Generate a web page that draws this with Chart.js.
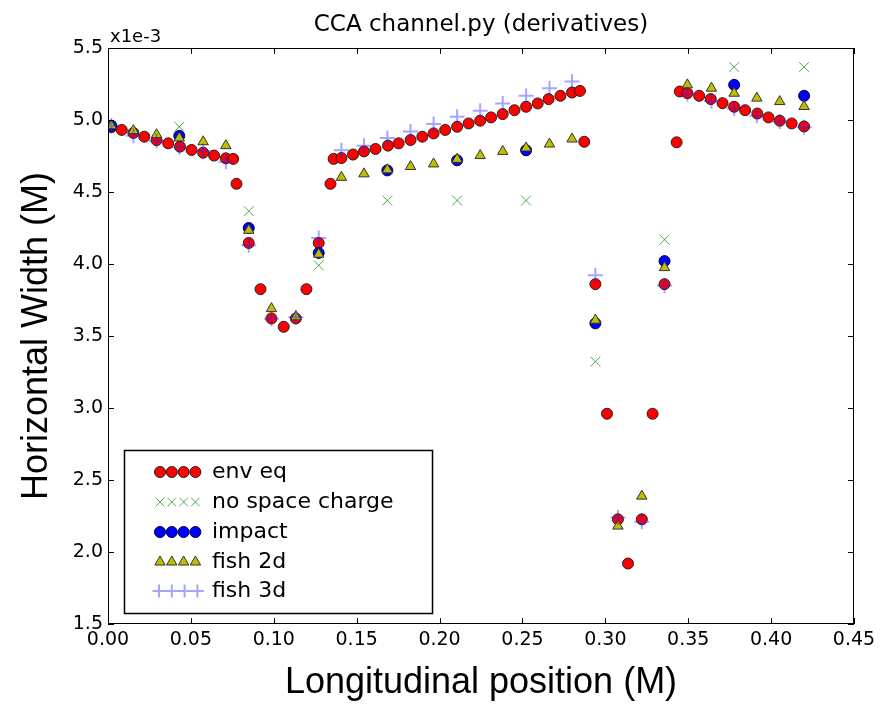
<!DOCTYPE html>
<html lang="en">
<head>
<meta charset="UTF-8">
<title>CCA channel.py (derivatives)</title>
<script src="https://cdn.jsdelivr.net/npm/chart.js"></script>
<style>
  body { margin: 0; background: #fff; }
  #wrap { width: 892px; height: 705px; }
</style>
</head>
<body>
<div id="wrap"><canvas id="chart1" width="892" height="705"></canvas></div>
<script>
// env eq (red circles)
const envX = [0.002, 0.0083, 0.0153, 0.0219, 0.0293, 0.0363, 0.0434, 0.0504, 0.0574, 0.064,
  0.0711, 0.0755, 0.0775, 0.0849, 0.092, 0.0986, 0.106, 0.1133, 0.1197, 0.1271,
  0.1342, 0.1361, 0.1408, 0.1478, 0.1544, 0.1614, 0.1689, 0.1753, 0.1825, 0.1896,
  0.1964, 0.2034, 0.2106, 0.2175, 0.2245, 0.2311, 0.2381, 0.2452, 0.2522, 0.2592,
  0.2658, 0.2729, 0.2799, 0.2847, 0.2873, 0.294, 0.301, 0.3076, 0.3137, 0.322,
  0.3285, 0.3357, 0.343, 0.3449, 0.3495, 0.3566, 0.3636, 0.3707, 0.3777, 0.3843,
  0.3917, 0.3984, 0.4052, 0.4124, 0.4199];
const envY = [4.95, 4.931, 4.91, 4.884, 4.86, 4.838, 4.815, 4.792, 4.773, 4.753,
  4.734, 4.730, 4.557, 4.146, 3.825, 3.622, 3.564, 3.622, 3.825, 4.146,
  4.557, 4.730, 4.736, 4.760, 4.782, 4.799, 4.822, 4.838, 4.861, 4.884,
  4.907, 4.931, 4.953, 4.976, 4.995, 5.018, 5.041, 5.068, 5.092, 5.115,
  5.145, 5.168, 5.191, 5.202, 4.849, 3.86, 2.96, 2.227, 1.92, 2.227,
  2.96, 3.86, 4.845, 5.198, 5.186, 5.168, 5.145, 5.117, 5.092, 5.068,
  5.045, 5.018, 4.995, 4.976, 4.955];

// impact and no space charge share the coarse grid
const coarseX = [0.002, 0.043, 0.0849, 0.1271, 0.1685, 0.2106, 0.2522, 0.294, 0.3357, 0.3777, 0.4199];
const noScY = [4.96, 4.953, 4.367, 3.991, 4.441, 4.441, 4.441, 3.322, 4.169, 5.368, 5.368];
const impactY = [4.96, 4.89, 4.25, 4.077, 4.65, 4.72, 4.79, 3.588, 4.02, 5.244, 5.168];

// fish 2d / fish 3d
const fishX = [0.002, 0.0153, 0.0293, 0.043, 0.0574, 0.0711, 0.0849, 0.0986, 0.1133, 0.1271,
  0.1408, 0.1544, 0.1685, 0.1825, 0.1964, 0.2106, 0.2245, 0.2381, 0.2522, 0.2663,
  0.2799, 0.294, 0.3076, 0.322, 0.3357, 0.3495, 0.364, 0.3777, 0.3914, 0.4052, 0.4199];
const fish2dY = [4.96, 4.926, 4.898, 4.875, 4.849, 4.822, 4.234, 3.69, 3.633, 4.068,
  4.602, 4.626, 4.654, 4.677, 4.695, 4.727, 4.753, 4.782, 4.806, 4.833,
  4.868, 3.61, 2.18, 2.388, 3.975, 5.244, 5.221, 5.186, 5.152, 5.128, 5.094];
const fish3dY = [4.96, 4.89, 4.855, 4.81, 4.785, 4.71, 4.13, 3.62, 3.63, 4.18,
  4.79, 4.822, 4.875, 4.921, 4.972, 5.022, 5.064, 5.115, 5.168, 5.221,
  5.267, 3.922, 2.24, 2.21, 3.85, 5.18, 5.13, 5.08, 5.03, 4.99, 4.95];

const xTicks = [0, 0.05, 0.1, 0.15, 0.2, 0.25, 0.3, 0.35, 0.4, 0.45];
const yTicks = [1.5, 2.0, 2.5, 3.0, 3.5, 4.0, 4.5, 5.0, 5.5];

function pts(xs, ys) {
  return xs.map((x, i) => ({ x: x, y: ys[i] }));
}

const datasets = [{
  label: 'env eq', data: pts(envX, envY),
  pointStyle: 'circle', pointRadius: 5.5,
  backgroundColor: '#ff0000', borderColor: '#222', borderWidth: 1, order: 5
}, {
  label: 'no space charge', data: pts(coarseX, noScY),
  pointStyle: 'crossRot', pointRadius: 7,
  backgroundColor: 'rgba(0,140,0,0.7)', borderColor: 'rgba(0,140,0,0.7)', borderWidth: 1, order: 4
}, {
  label: 'impact', data: pts(coarseX, impactY),
  pointStyle: 'circle', pointRadius: 5.5,
  backgroundColor: '#0000ff', borderColor: '#000040', borderWidth: 1, order: 3
}, {
  label: 'fish 2d', data: pts(fishX, fish2dY),
  pointStyle: 'triangle', pointRadius: 6,
  backgroundColor: '#bfbf00', borderColor: '#333', borderWidth: 1, order: 2
}, {
  label: 'fish 3d', data: pts(fishX, fish3dY),
  pointStyle: 'cross', pointRadius: 7.5,
  backgroundColor: 'rgba(30,30,255,0.4)', borderColor: 'rgba(30,30,255,0.4)', borderWidth: 2, order: 1
}];

// marker used in the hand drawn legend
function marker(ctx, ds, x, y, r) {
  ctx.save();
  ctx.fillStyle = ds.backgroundColor;
  ctx.strokeStyle = ds.borderColor;
  ctx.lineWidth = ds.borderWidth;
  ctx.beginPath();
  if (ds.pointStyle === 'circle') {
    ctx.arc(x, y, r, 0, Math.PI * 2);
    ctx.fill(); ctx.stroke();
  } else if (ds.pointStyle === 'triangle') {
    ctx.moveTo(x, y - r);
    ctx.lineTo(x + r * 0.866, y + r * 0.5);
    ctx.lineTo(x - r * 0.866, y + r * 0.5);
    ctx.closePath();
    ctx.fill(); ctx.stroke();
  } else if (ds.pointStyle === 'crossRot') {
    const d = r * 0.707;
    ctx.moveTo(x - d, y - d); ctx.lineTo(x + d, y + d);
    ctx.moveTo(x + d, y - d); ctx.lineTo(x - d, y + d);
    ctx.stroke();
  } else {
    ctx.moveTo(x - r, y); ctx.lineTo(x + r, y);
    ctx.moveTo(x, y - r); ctx.lineTo(x, y + r);
    ctx.stroke();
  }
  ctx.restore();
}

const decorations = {
  id: 'decorations',
  afterDraw(chart) {
    const ctx = chart.ctx;
    const a = chart.chartArea;
    const sx = chart.scales.x, sy = chart.scales.y;
    ctx.save();
    // frame + inward ticks on all sides
    ctx.strokeStyle = '#000';
    ctx.lineWidth = 1;
    ctx.strokeRect(a.left + 0.5, a.top + 0.5, a.right - a.left - 1, a.bottom - a.top - 1);
    ctx.beginPath();
    xTicks.forEach(v => {
      const px = Math.round(sx.getPixelForValue(v)) + 0.5;
      ctx.moveTo(px, a.bottom); ctx.lineTo(px, a.bottom - 6);
      ctx.moveTo(px, a.top); ctx.lineTo(px, a.top + 6);
    });
    yTicks.forEach(v => {
      const py = Math.round(sy.getPixelForValue(v)) + 0.5;
      ctx.moveTo(a.left, py); ctx.lineTo(a.left + 6, py);
      ctx.moveTo(a.right, py); ctx.lineTo(a.right - 6, py);
    });
    ctx.stroke();

    // title and offset text
    ctx.fillStyle = '#000';
    ctx.font = '23px "DejaVu Sans"';
    ctx.textAlign = 'center';
    ctx.textBaseline = 'alphabetic';
    ctx.fillText('CCA channel.py (derivatives)', 481, 31);
    ctx.font = '18px "DejaVu Sans"';
    ctx.textAlign = 'left';
    ctx.fillText('x1e-3', 110, 42);

    // legend box
    const lx = 124, ly = 450, lw = 308, lh = 163;
    ctx.fillStyle = '#fff';
    ctx.fillRect(lx, ly, lw, lh);
    ctx.strokeStyle = '#000';
    ctx.lineWidth = 1.5;
    ctx.strokeRect(lx + 0.5, ly + 0.5, lw, lh);
    const rowY = [472, 502, 532, 562, 591];
    const sizes = [5.5, 6, 5.5, 6, 6.5];
    const step = [11.8, 11.8, 11.8, 11.8, 12.8];
    ctx.font = '22px "DejaVu Sans"';
    ctx.textBaseline = 'middle';
    datasets.forEach((ds, i) => {
      for (let k = 0; k < 4; k++) {
        marker(ctx, ds, 160 + k * step[i] - (i === 4 ? 1 : 0), rowY[i], sizes[i]);
      }
      ctx.fillStyle = '#000';
      ctx.fillText(ds.label, 212, rowY[i]);
    });
    ctx.restore();
  }
};

new Chart(document.getElementById('chart1'), {
  type: 'scatter',
  data: { datasets: datasets },
  options: {
    responsive: false,
    animation: false,
    layout: { padding: { top: 48, right: 38, left: 0, bottom: 0 } },
    plugins: {
      legend: { display: false },
      tooltip: { enabled: false }
    },
    scales: {
      x: {
        type: 'linear', min: 0, max: 0.45,
        afterFit: s => { s.height = 81; },
        afterBuildTicks: s => { s.ticks = xTicks.map(v => ({ value: v })); },
        grid: { display: false, drawTicks: false },
        border: { display: false },
        ticks: {
          color: '#000', padding: 5,
          font: { family: 'DejaVu Sans', size: 19 },
          callback: v => v.toFixed(2)
        },
        title: {
          display: true, text: 'Longitudinal position (M)', color: '#000',
          font: { family: 'Liberation Sans', size: 36 },
          padding: { top: 0, bottom: 0 }
        }
      },
      y: {
        type: 'linear', min: 1.5, max: 5.5,
        afterFit: s => { s.width = 108; },
        afterBuildTicks: s => { s.ticks = yTicks.map(v => ({ value: v })); },
        grid: { display: false, drawTicks: false },
        border: { display: false },
        ticks: {
          color: '#000', padding: 5,
          font: { family: 'DejaVu Sans', size: 19 },
          callback: v => v.toFixed(1)
        },
        title: {
          display: true, text: 'Horizontal Width (M)', color: '#000',
          font: { family: 'Liberation Sans', size: 36 },
          padding: { top: 15, bottom: 0 }
        }
      }
    }
  },
  plugins: [decorations]
});
</script>
</body>
</html>
